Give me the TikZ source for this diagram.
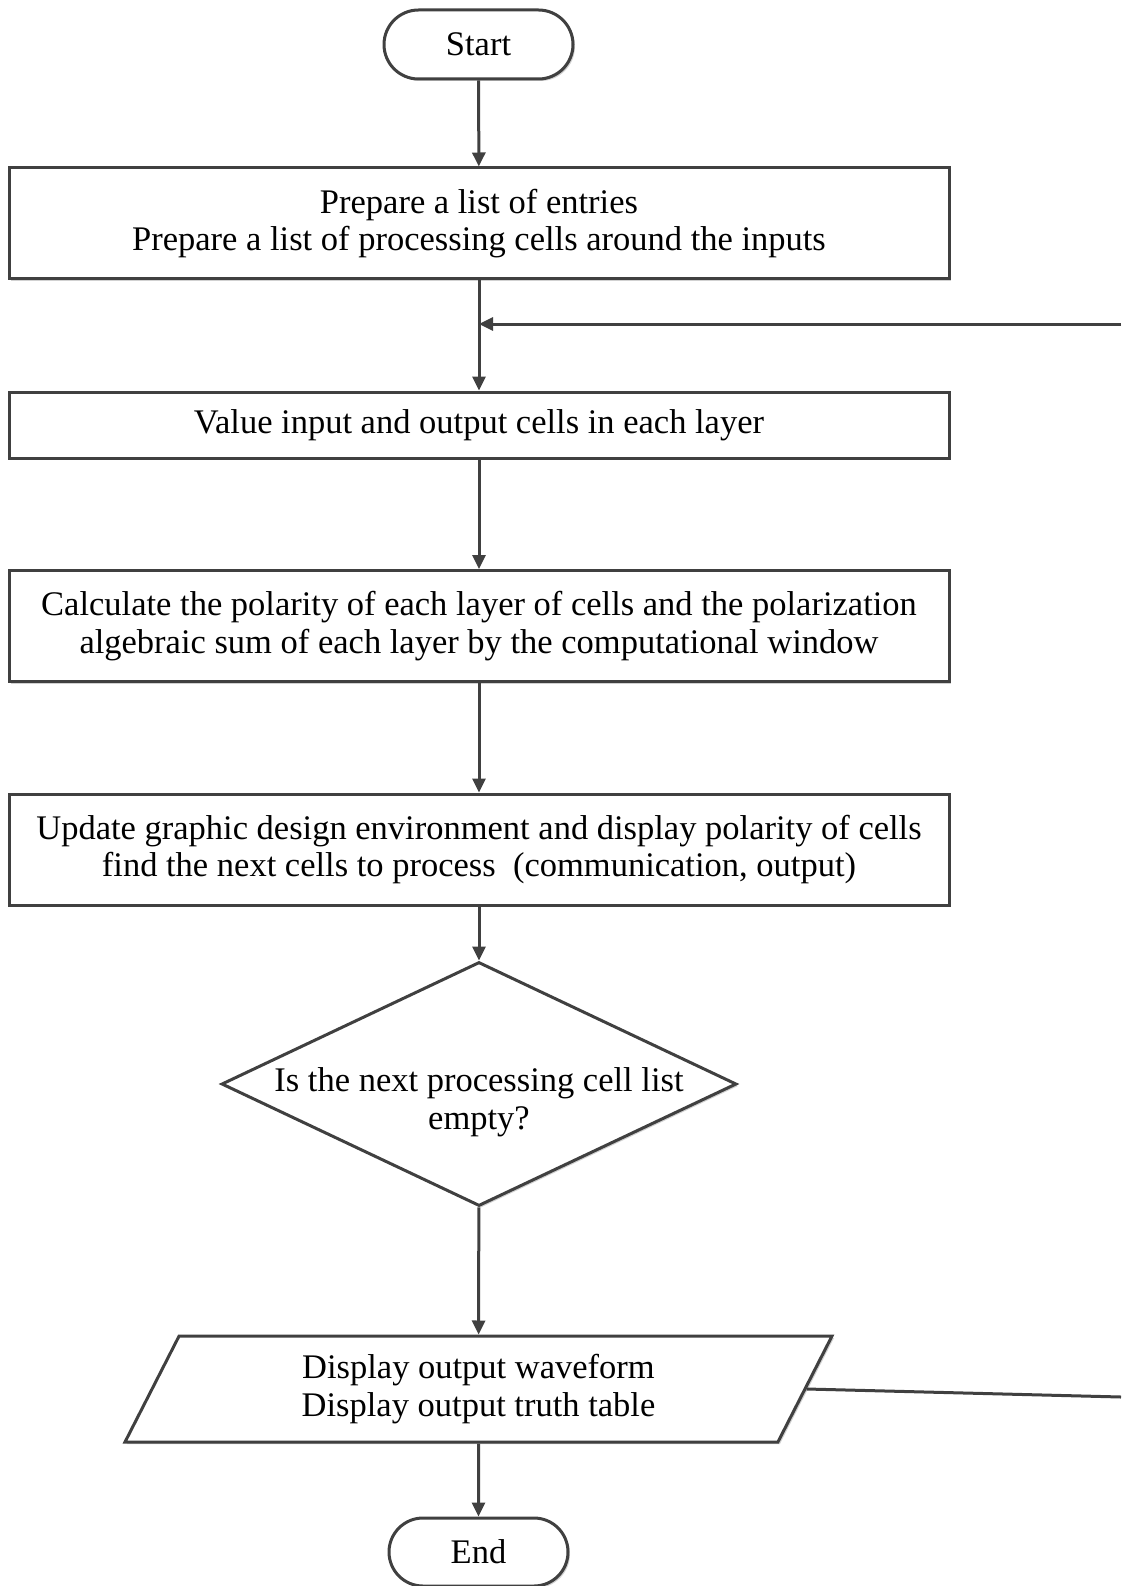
\documentclass[tikz,border=0pt]{standalone}
\usepackage{fontspec}
\setmainfont{Liberation Serif}
\usetikzlibrary{shapes.geometric,shapes.misc,arrows.meta,shadows}
\definecolor{linegray}{HTML}{404040}

\begin{document}
\begin{tikzpicture}[x=1pt, y=-1pt, font=\fontsize{34.5}{37.5}\selectfont,
    shape line/.style={draw=linegray, line width=3pt, fill=white,
      drop shadow={shadow xshift=2pt, shadow yshift=-2pt, fill=black!18, opacity=1}},
    terminal/.style={shape line, rounded rectangle, minimum width=189pt, minimum height=69pt, inner sep=0pt},
    process/.style={shape line, rectangle, minimum width=940pt, minimum height=111pt, align=center, inner sep=0pt},
    decision/.style={shape line, diamond, minimum width=515pt, minimum height=244pt, inner sep=0pt},
    io/.style={shape line, trapezium, trapezium left angle=52, trapezium right angle=128,
      trapezium stretches body, minimum width=707pt, minimum height=106pt, align=center, inner sep=0pt},
    flow/.style={draw=linegray, line width=3pt, -{Triangle[length=14pt, width=13pt]}}]
    \useasboundingbox (0,0) rectangle (1121,1586);

    % Steps of the flow
    \node[terminal] (start) at (478.5,44.5) {Start};
    \node[process] (prep) at (479,223.5) {Prepare a list of entries\\Prepare a list of processing cells around the inputs};
    \node[process, minimum height=66pt] (value) at (479,425) {Value input and output cells in each layer};
    \node[process] (calc) at (479,626) {Calculate the polarity of each layer of cells and the polarization\\algebraic sum of each layer by the computational window};
    \node[process] (update) at (479,849.5) {Update graphic design environment and display polarity of cells\\find the next cells to process\ \ (communication, output)};
    \node[decision, label={[align=center, yshift=-18pt]center:Is the next processing cell list\\empty?}] (empty) at (479,1084) {};
    \node[io] (display) at (478.5,1389) {Display output waveform\\Display output truth table};
    \node[terminal, minimum width=179pt, minimum height=68pt] (end) at (478.5,1552) {End};

    % Loop ends at the page edge
    \coordinate (loop in) at (1121,324);
    \coordinate (loop out) at (1121,1397);

    % Connectors
    \draw[flow] (start) -- (prep);
    \draw[flow] (prep) -- (value);
    \draw[flow] (loop in) -- (loop in -| prep.south);
    \draw[flow] (value) -- (calc);
    \draw[flow] (calc) -- (update);
    \draw[flow] (update) -- (empty);
    \draw[flow] (empty) -- (display);
    \draw[flow] (display) -- (end);
    \draw[linegray, line width=3pt] (display.east) -- (loop out);
\end{tikzpicture}
\end{document}
